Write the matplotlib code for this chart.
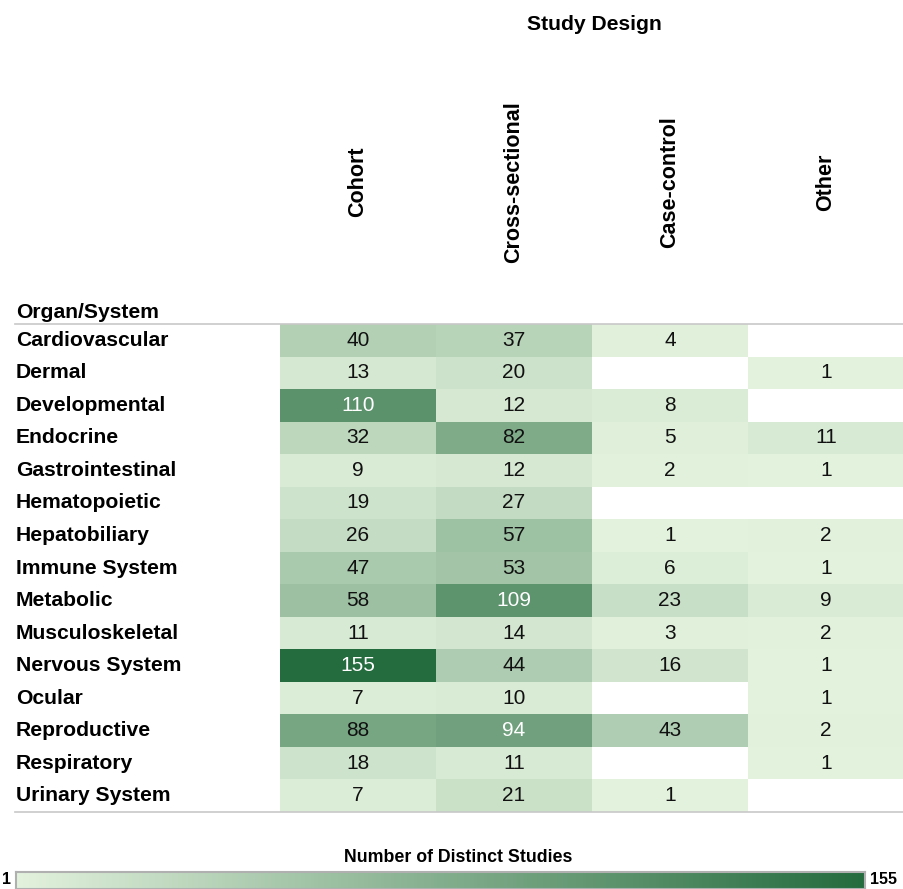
import numpy as np
import matplotlib
matplotlib.use("Agg")
import matplotlib.pyplot as plt
from matplotlib.colors import LinearSegmentedColormap, Normalize
from matplotlib.transforms import blended_transform_factory
from matplotlib.lines import Line2D

plt.rcParams['font.family'] = ['Liberation Sans', 'DejaVu Sans']

organs = ["Cardiovascular", "Dermal", "Developmental", "Endocrine", "Gastrointestinal",
          "Hematopoietic", "Hepatobiliary", "Immune System", "Metabolic", "Musculoskeletal",
          "Nervous System", "Ocular", "Reproductive", "Respiratory", "Urinary System"]
designs = ["Cohort", "Cross-sectional", "Case-control", "Other"]
nan = np.nan
cohort = [40, 13, 110, 32, 9, 19, 26, 47, 58, 11, 155, 7, 88, 18, 7]
cross_sectional = [37, 20, 12, 82, 12, 27, 57, 53, 109, 14, 44, 10, 94, 11, 21]
case_control = [4, nan, 8, 5, 2, nan, 1, 6, 23, 3, 16, nan, 43, nan, 1]
other = [nan, 1, nan, 11, 1, nan, 2, 1, 9, 2, 1, 1, 2, 1, nan]

vals = np.array([cohort, cross_sectional, case_control, other]).T
vmin, vmax = 1, 155

cmap = LinearSegmentedColormap.from_list("greens", ["#e3f2dd", "#246b3e"])
norm = Normalize(vmin=vmin, vmax=vmax)

W, H = 904, 889
fig = plt.figure(figsize=(W / 100, H / 100), dpi=100)

# table area in pixels
x0, x1 = 280, 904
ytop, ybot = 324, 812
ax = fig.add_axes([x0 / W, 1 - ybot / H, (x1 - x0) / W, (ybot - ytop) / H])
ax.pcolormesh(np.ma.masked_invalid(vals), cmap=cmap, norm=norm)
ax.set_xlim(0, len(designs))
ax.set_ylim(len(organs), 0)
ax.axis("off")

for i in range(len(organs)):
    for j in range(len(designs)):
        v = vals[i, j]
        if np.isnan(v):
            continue
        ax.text(j + 0.5, i + 0.5, f"{int(v)}", ha="center", va="center", fontsize=15,
                color="white" if v >= 90 else "#111111")

# row labels
tr = blended_transform_factory(fig.transFigure, ax.transData)
for i, name in enumerate(organs):
    ax.text(16 / W, i + 0.5, name, transform=tr, ha="left", va="center",
            fontsize=15.2, fontweight="bold", clip_on=False)

# column labels
for j, name in enumerate(designs):
    fig.text((x0 + (j + 0.5) * (x1 - x0) / len(designs)) / W, 1 - 182 / H, name,
             rotation=90, ha="center", va="center", fontsize=15.5, fontweight="bold")

fig.text(594 / W, 1 - 24 / H, "Study Design", ha="center", va="center",
         fontsize=15.2, fontweight="bold")
fig.text(16 / W, 1 - 312 / H, "Organ/System", ha="left", va="center",
         fontsize=15.2, fontweight="bold")

# horizontal rules
for yy in (ytop, ybot):
    fig.add_artist(Line2D([15 / W, 1], [1 - yy / H, 1 - yy / H], color="#c8c8c8", lw=1.2))

# colour legend
cax = fig.add_axes([16 / W, 0, 849 / W, 17 / H])
grad = np.linspace(vmin, vmax, 256).reshape(1, -1)
cax.imshow(grad, aspect="auto", cmap=cmap, norm=norm, extent=[vmin, vmax, 0, 1])
cax.set_xticks([])
cax.set_yticks([])
for s in cax.spines.values():
    s.set_color("#b0b0b0")
    s.set_linewidth(1.5)
fig.text(458 / W, 1 - 857 / H, "Number of Distinct Studies", ha="center", va="center",
         fontsize=12.8, fontweight="bold")
fig.text(7 / W, 1 - 880 / H, "1", ha="center", va="center", fontsize=11.5, fontweight="bold")
fig.text(884 / W, 1 - 880 / H, "155", ha="center", va="center", fontsize=11.5, fontweight="bold")

fig.savefig("out.png", dpi=100)
